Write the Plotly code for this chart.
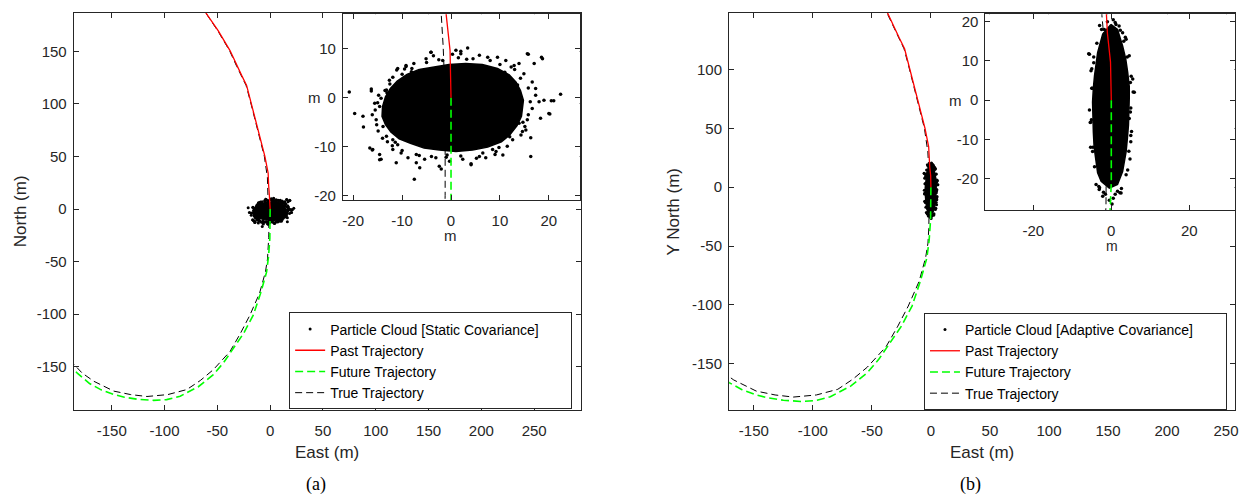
import plotly.graph_objects as go

W, H = 1244, 496

# ---------------- data (metres) ----------------
past_x = [0, -0.2, -1.0, -1.4, -1.9, -5.0, -9.7, -14.4, -18.5, -22.3, -27.0, -31.1, -38.0, -49.1, -60.0, -66.0]
past_y = [0, 9.7, 17.1, 21.9, 34.3, 50.0, 68.9, 87.7, 103.5, 117.6, 127.1, 135.6, 150.7, 169.5, 185.8, 194.0]

future_x = [0, 0.0, -0.3, -1.5, -3.4, -9.0, -16.0, -25.0, -34.9, -44.0, -53.8, -68.0, -85.2, -98.0, -110.4,
            -125.0, -138.0, -148.0, -160.0, -171.0, -182.6, -192.0]
future_y = [0, -21.0, -28.0, -45.0, -60.0, -80.0, -101.0, -118.0, -132.4, -146.0, -157.5, -169.0, -178.0, -181.3,
            -182.0, -181.0, -179.0, -176.4, -172.0, -166.0, -156.0, -147.0]

true_x = [-66.5, -60.5, -49.6, -38.5, -31.6, -27.5, -22.8, -19.0, -14.9, -10.2, -5.5, -2.6, -2.4, -2.0, -1.6,
          -1.2, -1.2, -1.36, -1.8, -2.5, -4.5, -10.0, -19.2, -28.0, -38.0, -53.8, -66.0, -78.9, -97.0, -116.6,
          -132.0, -148.0, -167.0, -178.0, -186.0, -195.0]
true_y = [194.0, 185.8, 169.5, 150.7, 135.6, 127.1, 117.6, 103.5, 87.7, 68.9, 50.0, 30.0, 21.5, 17.1, 10.4,
          0.0, -20.0, -27.0, -35.0, -47.5, -60.0, -80.0, -101.0, -118.0, -135.5, -152.8, -163.0, -171.7, -176.5,
          -178.3, -176.5, -173.2, -163.8, -156.0, -147.5, -138.0]

# particle cloud, static covariance: dense core outline + scattered particles
static_core_x = [-6.5, -3.0, -0.4, 3.0, 6.4, 9.5, 11.9, 13.3, 14.2, 14.8, 14.4, 13.5, 12.0, 10.3, 7.5, 4.4, 1.0,
                 -2.4, -5.5, -8.3, -10.6, -12.3, -13.4, -14.1, -14.0, -13.4, -12.4, -11.0, -9.0]
static_core_y = [5.8, 6.4, 6.8, 7.0, 6.8, 6.0, 4.7, 3.2, 1.5, -0.5, -3.8, -5.7, -7.6, -9.0, -10.1, -10.7, -11.0,
                 -10.7, -10.3, -9.3, -8.4, -7.0, -5.5, -3.8, -1.8, 0.2, 1.9, 3.4, 4.8]
static_pts_x = [-20.8, -19.7, -17.9, -16.3, -16.1, -16.0, -14.6, -14.3, -12.6, -11.9, -10.9, -9.2, -7.5, -7.1,
                -6.4, -4.1, -2.4, -1.7, 1.0, 3.4, 4.1, 7.5, 9.5, 13.9, 15.8, 18.7, 16.3, 16.3, 18.3, 19.0,
                20.0, 21.0, 22.4, 18.0, 17.3, 13.9, 14.3, 12.6, -11.9, -10.2, -8.8, -5.4, -0.3, 5.8, 7.1,
                -14.6, -15.3, -15.6, -13.2, -14.3, -16.6, -8.1, -5.1, 2.0, 5.8, 11.2, 12.9, 14.9, 16.6,
                17.3, 16.6, 15.6, 15.3, 11.5, 9.2, 2.4, -3.1, -7.1, -10.9, -13.2, -13.9, -18.0, -16.3,
                -16.1, -14.6, -11.2, -2.0, 4.1, 10.6, 20.5, 20.2, 18.5, 15.6, -4.1, 2.0, -9.2, -11.1, 17.0,
                -15.5, -15.2, -14.0, -12.0, -10.0, -6.5, -4.0, -1.0, 2.0, 6.5, 8.5, 12.0, 14.7, 15.8,
                16.2, 15.8, 14.2, 13.0, 10.0, 8.0, 4.5, 1.5, -2.5, -5.0, -8.0, -10.0, -12.5, -13.5,
                -14.8, -15.0, -3.6, 0.3, 5.2, 9.8, 12.3, -9.5, -13.0,
                -14.9, -13.1, -11.4, -7.6, 3.2, 11.0, 13.6, 15.1, 14.6, 9.0, -0.8, -11.9]
static_pts_y = [1.2, -3.2, -6.0, 1.4, -3.5, -10.6, -11.6, -12.6, 3.6, -10.6, 6.0, 6.6, -16.7, -13.3,
                -14.3, 9.3, -14.0, 7.6, 9.7, 10.2, -13.7, 8.3, 8.3, 7.0, 8.9, 8.0, -8.2, -12.0, -4.2, -0.5,
                -3.2, -0.6, 0.7, -0.8, 1.9, -5.2, -7.6, -8.6, -8.6, -11.3, -12.3, -12.6, -13.0, -12.0, -12.3,
                -1.8, -4.5, -1.1, 1.6, -0.1, -10.3, 5.3, 8.0, 9.0, 8.7, 7.6, 6.6, 4.9, 3.2,
                0.5, -2.2, -4.5, -6.6, -9.9, -11.0, -12.6, -12.3, -11.6, -9.6, -7.9, -5.9, -3.8, 1.8,
                -10.7, -12.7, -13.3, -14.6, -13.5, -11.7, -0.6, -3.3, 8.3, 9.0, 9.3, 9.5, 6.4, 5.7, 7.0,
                -2.5, -5.5, -8.3, -9.8, -10.8, -11.8, -12.0, -12.2, -11.9, -11.3, -10.6, -8.0, -5.0, -3.5,
                -0.8, 2.0, 4.0, 5.8, 6.8, 7.6, 8.0, 8.2, 7.8, 7.2, 6.0, 4.8, 2.8, 1.5,
                0.5, -1.0, 8.6, 8.9, -12.4, -10.2, 6.3, 5.9, -9.0,
                -6.8, 1.0, -9.1, 7.0, 7.9, 5.2, 2.6, -5.9, -6.9, -11.6, -11.7, 4.2]

# particle cloud, adaptive covariance
adapt_core_x = [-0.1, 1.6, 2.9, 3.7, 4.2, 4.6, 4.6, 4.4, 4.1, 3.8, 2.9, 1.6, -0.5, -2.6, -3.5, -3.9, -4.4,
                -4.6, -4.8, -4.6, -4.3, -3.5, -2.2]
adapt_core_y = [19.3, 18.0, 13.8, 10.5, 7.1, 3.5, 0.3, -6.4, -10.0, -13.1, -18.2, -21.5, -22.4, -20.7, -18.5,
                -15.7, -12.0, -8.1, -0.5, 3.0, 6.2, 12.1, 16.8]
adapt_pts_x = [-5.6, -5.2, 5.9, 5.5, 1.2, 2.0, 2.9, 4.6, -5.2, 4.6, 5.0, -3.9, -3.1, 1.6, 2.5, -2.2, 4.2,
               -4.8, 3.8, -1.8, -5.8, 5.6, 2.2, 5.1, -5.4, -3.0, -5.0, 5.0, -5.3, 4.8, -4.5, 3.6, -3.0,
               0.5, -1.5, 0.5, 5.2, -5.6,
               -4.9, 4.9, -5.1, 5.0, -4.7, 4.5, -4.3, 3.8, -3.2, 2.6, -2.0, 1.0, -0.5, 0.2, -4.5, 4.1,
               -3.7, 3.2, -2.5, 2.3, -1.0, 1.0, 4.9, -5.0]
adapt_pts_y = [11.7, 7.5, 2.0, 5.4, 19.3, 18.9, 17.2, 11.3, -5.6, -4.7, -10.6, -21.5, -22.8, -23.2, -23.7,
               -24.5, -17.8, -13.1, 15.5, 18.0, 11.8, 2.1, -23.6, 6.1, -5.7, -22.3, 3.0, -2.0, -12.0,
               -15.0, 9.5, 16.0, 19.0, 20.5, -24.0, -25.0, -8.0, -2.5,
               3.0, -3.0, -5.0, -9.0, -12.0, -13.0, -17.0, -19.0, -22.0, -22.5, -23.5, -24.0, -25.5, -26.5,
               11.0, 11.0, 14.5, 15.0, 18.0, 17.8, 20.0, 19.8, 4.5, 8.0]

main_x_ticks = [-150, -100, -50, 0, 50, 100, 150, 200, 250]
main_y_ticks_a = [-150, -100, -50, 0, 50, 100, 150]
main_y_ticks_b = [-150, -100, -50, 0, 50, 100]
inset_x_ticks_a = [-20, -10, 0, 10, 20]
inset_y_ticks_a = [-20, -10, 0, 10]
inset_x_ticks_b = [-20, 0, 20]
inset_y_ticks_b = [-20, -10, 0, 10, 20]

legend_names_a = ["Particle Cloud [Static Covariance]", "Past Trajectory", "Future Trajectory", "True Trajectory"]
legend_names_b = ["Particle Cloud [Adaptive Covariance]", "Past Trajectory", "Future Trajectory", "True Trajectory"]

# ---------------- figure ----------------
RED = "#FF0000"
GREEN = "#00FF00"
BLACK = "#000000"
AX = "#262626"
SANS = "Liberation Sans, Arial"
PAD = "\u00a0" * 7  # widens the legend box to the reference's width

fig = go.Figure()


def add_panel(xa, ya, core_x, core_y, pts_x, pts_y, names, legend, show, msize):
    common = dict(xaxis=xa, yaxis=ya, legend=legend)
    fig.add_trace(go.Scatter(x=true_x, y=true_y, mode="lines", name=names[3], showlegend=show,
                             legendrank=4, line=dict(color=BLACK, width=1, dash="7px,4px"), **common))
    fig.add_trace(go.Scatter(x=core_x + [core_x[0]], y=core_y + [core_y[0]], mode="lines", fill="toself",
                             fillcolor=BLACK, line=dict(color=BLACK, width=1.5), showlegend=False,
                             hoverinfo="skip", **common))
    fig.add_trace(go.Scatter(x=pts_x, y=pts_y, mode="markers", name=names[0] + PAD, showlegend=show,
                             legendrank=1, marker=dict(color=BLACK, size=msize, symbol="circle"), **common))
    fig.add_trace(go.Scatter(x=future_x, y=future_y, mode="lines", name=names[2], showlegend=show,
                             legendrank=3, line=dict(color=GREEN, width=1.6, dash="8px,4px"), **common))
    fig.add_trace(go.Scatter(x=past_x, y=past_y, mode="lines", name=names[1], showlegend=show,
                             legendrank=2, line=dict(color=RED, width=1.3), **common))


add_panel("x", "y", static_core_x, static_core_y, static_pts_x, static_pts_y, legend_names_a, "legend", True, 3)
add_panel("x2", "y2", static_core_x, static_core_y, static_pts_x, static_pts_y, legend_names_a, "legend", False, 3.5)
add_panel("x3", "y3", adapt_core_x, adapt_core_y, adapt_pts_x, adapt_pts_y, legend_names_b, "legend2", True, 3)
add_panel("x4", "y4", adapt_core_x, adapt_core_y, adapt_pts_x, adapt_pts_y, legend_names_b, "legend2", False, 3.5)


def px_x(p):
    return p / W


def px_y(p):
    return 1 - p / H


def axis(domain, rng, ticks, anchor, standoff):
    return dict(domain=domain, range=rng, tickvals=ticks, ticktext=[str(t) for t in ticks],
                anchor=anchor, showgrid=False, zeroline=False, showline=True, linecolor=AX,
                linewidth=1, mirror="allticks", ticks="inside", ticklen=5, tickcolor=AX,
                tickfont=dict(family=SANS, size=15, color=AX),
                ticklabelstandoff=standoff, fixedrange=True)


legend_style = dict(xanchor="left", yanchor="top", bgcolor="white", bordercolor=AX, borderwidth=1,
                    font=dict(family=SANS, size=14, color=BLACK), tracegroupgap=0,
                    itemclick=False, itemdoubleclick=False)

fig.update_layout(
    width=W, height=H, margin=dict(l=0, r=0, t=0, b=0),
    paper_bgcolor="white", plot_bgcolor="white",
    font=dict(family=SANS, color=AX),
    xaxis=axis([px_x(73), px_x(582)], [-186, 294], main_x_ticks, "y", 7),
    yaxis=axis([px_y(412.7), px_y(11.7)], [-191.5, 186.8], main_y_ticks_a, "x", 3),
    xaxis2=axis([px_x(343.3), px_x(581)], [-22.1, 26.3], inset_x_ticks_a, "y2", 7),
    yaxis2=axis([px_y(201), px_y(13.3)], [-21, 17.1], inset_y_ticks_a, "x2", 3),
    xaxis3=axis([px_x(731), px_x(1238.5)], [-171, 257.2], main_x_ticks, "y3", 7),
    yaxis3=axis([px_y(412.7), px_y(11.7)], [-189.6, 148.3], main_y_ticks_b, "x3", 3),
    xaxis4=axis([px_x(988.3), px_x(1238.5)], [-32.3, 31.6], inset_x_ticks_b, "y4", 7),
    yaxis4=axis([px_y(210.7), px_y(13.3)], [-28, 21.9], inset_y_ticks_b, "x4", 3),
    showlegend=True,
    legend=dict(x=px_x(289.3), y=px_y(314), **legend_style),
    legend2=dict(x=px_x(926.7), y=px_y(314.5), **legend_style),
)


def ann(text, x, y, size, angle=0, family=SANS, color=AX):
    fig.add_annotation(text=text, x=px_x(x), y=px_y(y), xref="paper", yref="paper",
                       showarrow=False, textangle=angle, xanchor="center", yanchor="middle",
                       font=dict(family=family, size=size, color=color))


ann("East (m)", 327.5, 455, 17)
ann("East (m)", 984.7, 455, 17)
ann("North (m)", 19, 212, 17, angle=-90)
ann("Y North (m)", 675, 212, 17, angle=-90)
ann("m", 315, 97.7, 15)
ann("m", 451.7, 236, 15)
ann("m", 958, 100, 15)
ann("m", 1115.3, 247, 14)
ann("(a)", 316, 487, 18, family="Liberation Serif, Times New Roman", color=BLACK)
ann("(b)", 973, 487, 18, family="Liberation Serif, Times New Roman", color=BLACK)

fig.write_html("out.html", config={"displayModeBar": False},
               post_script="document.body.style.margin='0px';")
